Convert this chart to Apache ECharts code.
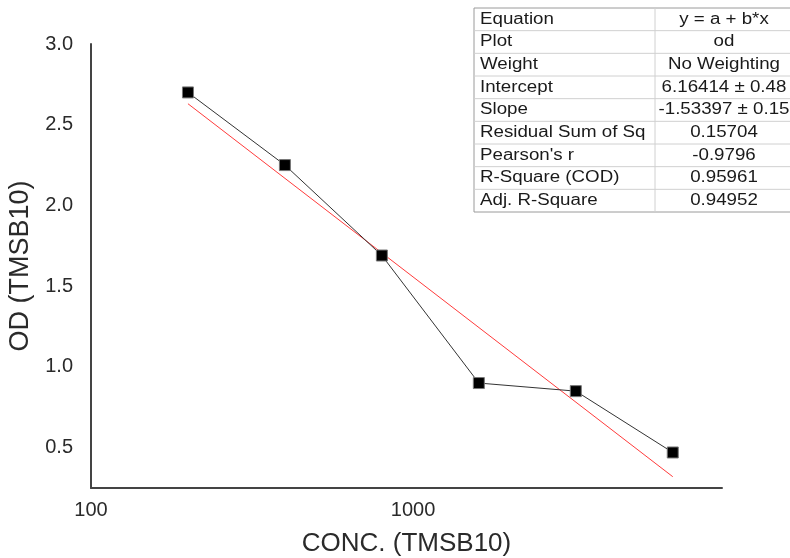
<!DOCTYPE html>
<html>
<head>
<meta charset="utf-8">
<title>OD vs CONC.</title>
<script src="https://cdn.jsdelivr.net/npm/echarts@6/dist/echarts.min.js"></script>
<style>
  html, body { margin: 0; padding: 0; background: #fff; }
  #chart { width: 790px; height: 558px; }
</style>
</head>
<body>
<div id="chart"></div>
<script>
// measured points
var conc = [200, 400, 800, 1600, 3200, 6400];
var od = [2.70, 2.25, 1.69, 0.90, 0.85, 0.47];
// red fit line, ends
var fitX = [200, 6400];
var fitY = [2.63, 0.32];
// fit results table
var tableLabels = ['Equation', 'Plot', 'Weight', 'Intercept', 'Slope',
  'Residual Sum of Sq', "Pearson's r", 'R-Square (COD)', 'Adj. R-Square'];
var tableValues = ['y = a + b*x', 'od', 'No Weighting', '6.16414 \u00b1 0.48',
  '-1.53397 \u00b1 0.15', '0.15704', '-0.9796', '0.95961', '0.94952'];

var font = '"Liberation Sans", Arial, sans-serif';

function buildTable() {
  var x0 = 474, y0 = 8, w = 330, h = 204, colX = 655;
  var rowH = h / tableLabels.length;
  var els = [];
  els.push({ type: 'rect', shape: { x: x0, y: y0, width: w, height: h },
    style: { fill: '#fff', stroke: '#9a9a9a', lineWidth: 1 }, z: 10 });
  for (var i = 1; i < tableLabels.length; i++) {
    els.push({ type: 'line', shape: { x1: x0, y1: y0 + i * rowH, x2: x0 + w, y2: y0 + i * rowH },
      style: { stroke: '#d0d0d0', lineWidth: 1 }, z: 11 });
  }
  els.push({ type: 'line', shape: { x1: colX, y1: y0, x2: colX, y2: y0 + h },
    style: { stroke: '#d0d0d0', lineWidth: 1 }, z: 11 });
  // text in the picture is a bit stretched sideways
  for (var j = 0; j < tableLabels.length; j++) {
    var cy = y0 + (j + 0.5) * rowH;
    els.push({ type: 'text', x: x0 + 6, y: cy, z: 12, scaleX: 1.17,
      style: { text: tableLabels[j], font: '16px ' + font, fill: '#1a1a1a', verticalAlign: 'middle' } });
    els.push({ type: 'text', x: 724, y: cy, z: 12, scaleX: 1.17,
      style: { text: tableValues[j], font: '16px ' + font, fill: '#1a1a1a', align: 'center', verticalAlign: 'middle' } });
  }
  return els;
}

var chart = echarts.init(document.getElementById('chart'));
chart.setOption({
  animation: false,
  backgroundColor: '#fff',
  textStyle: { fontFamily: font },
  grid: { left: 91, top: 44, right: 68, bottom: 70, containLabel: false, outerBoundsMode: 'none' },
  xAxis: {
    type: 'log',
    logBase: 10,
    min: 100,
    max: 9100,
    name: 'CONC. (TMSB10)',
    nameLocation: 'middle',
    nameGap: 43,
    nameTextStyle: { fontSize: 26, color: '#2a2a2a', fontFamily: font },
    axisLine: { lineStyle: { color: '#444', width: 2 } },
    axisTick: { show: false },
    splitLine: { show: false },
    minorTick: { show: false },
    axisLabel: {
      fontSize: 20, color: '#2a2a2a', margin: 12, fontFamily: font, showMaxLabel: false,
      formatter: function (v) { return String(Math.round(v)); }
    }
  },
  yAxis: {
    type: 'value',
    min: 0.25,
    max: 3.0,
    interval: 0.25,
    name: 'OD (TMSB10)',
    nameLocation: 'middle',
    nameGap: 50,
    nameTextStyle: { fontSize: 27, color: '#2a2a2a', fontFamily: font },
    axisLine: { show: true, lineStyle: { color: '#444', width: 2 } },
    axisTick: { show: false },
    splitLine: { show: false },
    axisLabel: {
      fontSize: 20, color: '#2a2a2a', margin: 18, fontFamily: font,
      formatter: function (v) {
        var k = Math.round(v * 100);
        return k % 50 === 0 ? v.toFixed(1) : '';
      }
    }
  },
  series: [
    {
      name: 'fit',
      type: 'line',
      data: fitX.map(function (x, i) { return [x, fitY[i]]; }),
      showSymbol: false,
      lineStyle: { color: '#ff3b3b', width: 1 },
      z: 2
    },
    {
      name: 'od',
      type: 'line',
      data: conc.map(function (x, i) { return [x, od[i]]; }),
      symbol: 'rect',
      symbolSize: 11,
      itemStyle: { color: '#000', borderColor: '#777', borderWidth: 1 },
      lineStyle: { color: '#333', width: 1 },
      z: 3
    }
  ],
  graphic: buildTable()
});
</script>
</body>
</html>
